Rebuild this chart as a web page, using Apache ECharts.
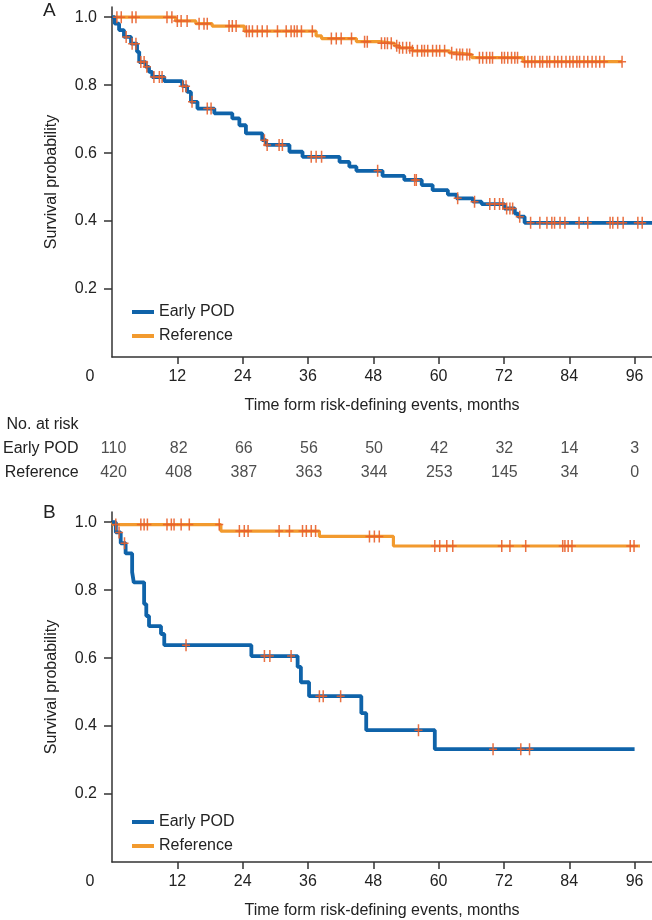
<!DOCTYPE html>
<html><head><meta charset="utf-8">
<script src="https://cdn.jsdelivr.net/npm/echarts@6/dist/echarts.min.js"></script>
<style>html,body{margin:0;padding:0;background:#fff}#c{width:652px;height:920px}</style>
</head><body><div id="c"></div>
<script>
// ---------- data ----------
const xTicks = [0, 12, 24, 36, 48, 60, 72, 84, 96];
const yTicks = [0.2, 0.4, 0.6, 0.8, 1.0];
const groups = ['Early POD', 'Reference'];
const riskRows = ['Reference', 'Early POD', 'No. at risk'];
const riskEarlyPOD = [110, 82, 66, 56, 50, 42, 32, 14, 3];
const riskReference = [420, 408, 387, 363, 344, 253, 145, 34, 0];

// Panel A – Kaplan–Meier steps [month, survival]
const kmA_early = [[0,1.0],[0.5,0.981],[1.3,0.962],[2.2,0.942],[3.5,0.922],[4.6,0.898],[5.0,0.868],[6.2,0.854],[6.8,0.839],[7.4,0.824],[9.6,0.812],[12.9,0.797],[13.8,0.780],[14.5,0.751],[15.7,0.731],[18.8,0.717],[22.1,0.702],[23.4,0.682],[24.6,0.658],[27.6,0.638],[28.3,0.624],[32.6,0.604],[35.0,0.589],[41.8,0.574],[43.6,0.560],[44.9,0.548],[49.7,0.533],[53.7,0.521],[56.9,0.506],[58.9,0.491],[61.7,0.478],[63.3,0.467],[66.3,0.457],[67.9,0.450],[72.1,0.437],[74.0,0.422],[74.6,0.413],[75.8,0.395],[99.2,0.395]];
const censA_early = [2.6,3.7,4.4,5.3,5.9,6.4,7.7,8.7,9.2,13.0,13.6,14.7,17.5,18.2,28.0,28.5,30.7,31.3,36.6,37.5,38.5,48.8,55.6,55.9,63.5,66.6,69.4,70.3,71.2,71.8,72.5,73.1,73.6,74.9,76.9,78.6,79.9,80.8,81.3,82.3,83.2,85.8,87.4,91.5,92.0,92.9,93.9,96.6,97.4];
const kmA_ref = [[0,1.0],[11.7,0.989],[15.4,0.981],[18.4,0.974],[24.3,0.959],[37.5,0.945],[38.5,0.937],[44.9,0.928],[49.1,0.923],[51.9,0.916],[52.8,0.910],[55.2,0.901],[62.0,0.895],[63.3,0.890],[66.1,0.881],[75.5,0.869],[93.7,0.869]];
const censA_ref = [0.9,1.7,3.7,4.4,10.1,11.0,12.0,12.7,13.8,16.0,16.9,17.5,21.5,22.1,22.8,24.7,25.2,25.8,26.7,27.6,28.5,30.4,32.0,32.9,33.5,34.0,34.8,36.8,40.3,41.2,42.1,44.0,46.4,46.9,49.5,50.1,50.6,51.3,52.3,52.8,53.4,54.1,54.7,55.2,56.1,56.9,57.4,58.0,58.9,59.6,60.2,61.1,62.4,63.3,63.9,64.4,65.2,65.7,67.5,68.1,68.8,69.4,69.9,71.6,72.1,72.7,73.4,74.0,74.5,75.8,76.4,77.1,77.7,78.6,79.1,79.9,80.4,81.3,81.9,82.6,83.4,84.1,84.7,85.4,85.9,86.7,87.4,88.2,88.9,89.6,90.4,93.7];

// Panel B
const kmB_early = [[0,1.0],[0.7,0.970],[1.6,0.938],[2.5,0.908],[3.7,0.853],[4.0,0.823],[5.9,0.759],[6.3,0.724],[6.8,0.694],[9.0,0.671],[9.6,0.638],[25.6,0.606],[34.1,0.574],[34.7,0.529],[36.2,0.488],[45.8,0.438],[46.7,0.388],[59.3,0.332],[96.0,0.332]];
const censB_early = [1.3,2.3,13.6,28.0,29.0,32.9,38.1,38.8,42.0,56.3,70.0,75.1,76.7];
const kmB_ref = [[0,1.0],[0.3,0.993],[20.0,0.974],[38.1,0.958],[51.7,0.930],[97.0,0.930]];
const censB_ref = [0.7,5.3,5.9,6.5,10.1,10.9,11.4,12.7,14.2,19.7,23.4,24.3,25.0,30.7,32.6,35.0,35.7,36.6,37.4,47.3,48.2,49.1,59.3,60.2,61.5,62.6,71.6,73.1,76.0,82.8,83.2,83.8,84.5,95.2,95.9];

// ---------- build ----------
const FONT = 'Liberation Sans, Arial, sans-serif';
const TXT = '#222';
const AX = '#333';
const BLUE = '#0f63a9';
const ORANGE = '#f29a2e';
const CENS = '#e8612c';
const XMAX = 99.2, YMAX = 1.03;

function survAt(curve, t) {
  let v = curve[0][1];
  for (const p of curve) { if (p[0] <= t) v = p[1]; else break; }
  return v;
}
const plus = 'path://M3.25,0h1.5v12h-1.5z M0,5.25h8v1.5h-8z';

function xAxisCfg(gi) {
  return {
    type: 'value', gridIndex: gi, min: 0, max: XMAX,
    name: 'Time form risk-defining events, months', nameLocation: 'middle', nameGap: 41,
    nameTextStyle: { fontSize: 16, color: TXT, fontFamily: FONT },
    axisLine: { show: true, lineStyle: { color: AX, width: 1.5 } },
    axisTick: { show: true, customValues: xTicks.filter(v => v > 0), length: 7, lineStyle: { color: AX, width: 1.5 } },
    axisLabel: {
      customValues: xTicks, margin: 12, fontSize: 16, color: TXT, fontFamily: FONT,
      formatter: v => v === 0 ? '{z|0}' : String(v),
      rich: { z: { padding: [0, 44, 0, 0], fontSize: 16, color: TXT, fontFamily: FONT } }
    },
    splitLine: { show: false }
  };
}
function yAxisCfg(gi) {
  return {
    type: 'value', gridIndex: gi, min: 0, max: YMAX,
    name: 'Survival probability', nameLocation: 'middle', nameGap: 52,
    nameTextStyle: { fontSize: 16, color: TXT, fontFamily: FONT },
    axisLine: { show: true, lineStyle: { color: AX, width: 1.5 } },
    axisTick: { show: true, customValues: yTicks, length: 8, lineStyle: { color: AX, width: 1.5 } },
    axisLabel: { customValues: yTicks, margin: 15, fontSize: 16, color: TXT, fontFamily: FONT, formatter: v => v.toFixed(1) },
    splitLine: { show: false }
  };
}
function lineSeries(name, curve, color, width, gi, z) {
  return { type: 'line', name, xAxisIndex: gi, yAxisIndex: gi, step: 'end', data: curve,
    showSymbol: false, symbol: 'none', lineStyle: { color, width }, itemStyle: { color }, z, animation: false };
}
function censSeries(curve, times, gi) {
  return { type: 'scatter', name: 'censored', xAxisIndex: gi, yAxisIndex: gi,
    data: times.map(t => [t, survAt(curve, t)]), symbol: plus, symbolSize: [8, 12],
    itemStyle: { color: CENS, opacity: 0.9 }, z: 5, animation: false, silent: true };
}
function legendCfg(top) {
  return { data: groups, orient: 'vertical', left: 127, top, icon: 'rect', itemWidth: 22, itemHeight: 4,
    itemGap: 6, textStyle: { fontSize: 16, color: TXT, fontFamily: FONT, lineHeight: 18 }, selectedMode: false };
}

const riskData = [];
xTicks.forEach((t, i) => {
  const off = i === 0 ? [-5, 0] : [0, 0];
  riskData.push({ value: [t, 1, riskEarlyPOD[i]], label: { offset: off } });
  riskData.push({ value: [t, 0, riskReference[i]], label: { offset: off } });
});

const option = {
  backgroundColor: '#fff',
  animation: false,
  textStyle: { fontFamily: FONT },
  title: [
    { text: 'A', left: 43, top: 1, padding: 0, textStyle: { fontSize: 19, fontWeight: 'normal', color: TXT, fontFamily: FONT } },
    { text: 'B', left: 43, top: 503, padding: 0, textStyle: { fontSize: 19, fontWeight: 'normal', color: TXT, fontFamily: FONT } }
  ],
  legend: [legendCfg(298), legendCfg(808)],
  grid: [
    { left: 112, top: 7, width: 540, height: 350 },
    { left: 112, top: 512, width: 540, height: 350 },
    { left: 112, top: 413, width: 540, height: 72 }
  ],
  xAxis: [xAxisCfg(0), xAxisCfg(1),
    { type: 'value', gridIndex: 2, min: 0, max: XMAX, show: false }],
  yAxis: [yAxisCfg(0), yAxisCfg(1),
    { type: 'category', gridIndex: 2, data: riskRows, axisLine: { show: false }, axisTick: { show: false },
      splitLine: { show: false }, axisLabel: { margin: 35, fontSize: 16, color: TXT, fontFamily: FONT } }],
  series: [
    lineSeries('Reference', kmA_ref, ORANGE, 3.2, 0, 2),
    lineSeries('Early POD', kmA_early, BLUE, 3.8, 0, 3),
    censSeries(kmA_ref, censA_ref, 0),
    censSeries(kmA_early, censA_early, 0),
    lineSeries('Reference', kmB_ref, ORANGE, 3.2, 1, 2),
    lineSeries('Early POD', kmB_early, BLUE, 3.8, 1, 3),
    censSeries(kmB_ref, censB_ref, 1),
    censSeries(kmB_early, censB_early, 1),
    { type: 'scatter', name: 'risk', xAxisIndex: 2, yAxisIndex: 2, data: riskData, symbolSize: 2,
      itemStyle: { color: 'rgba(255,255,255,0)' }, silent: true, z: 10,
      labelLayout: { hideOverlap: false },
      label: { show: true, position: 'inside', formatter: p => String(p.value[2]), fontSize: 16, color: TXT, fontFamily: FONT } }
  ]
};
const chart = echarts.init(document.getElementById('c'), null, { renderer: 'canvas' });
chart.setOption(option);
</script>
</body></html>
